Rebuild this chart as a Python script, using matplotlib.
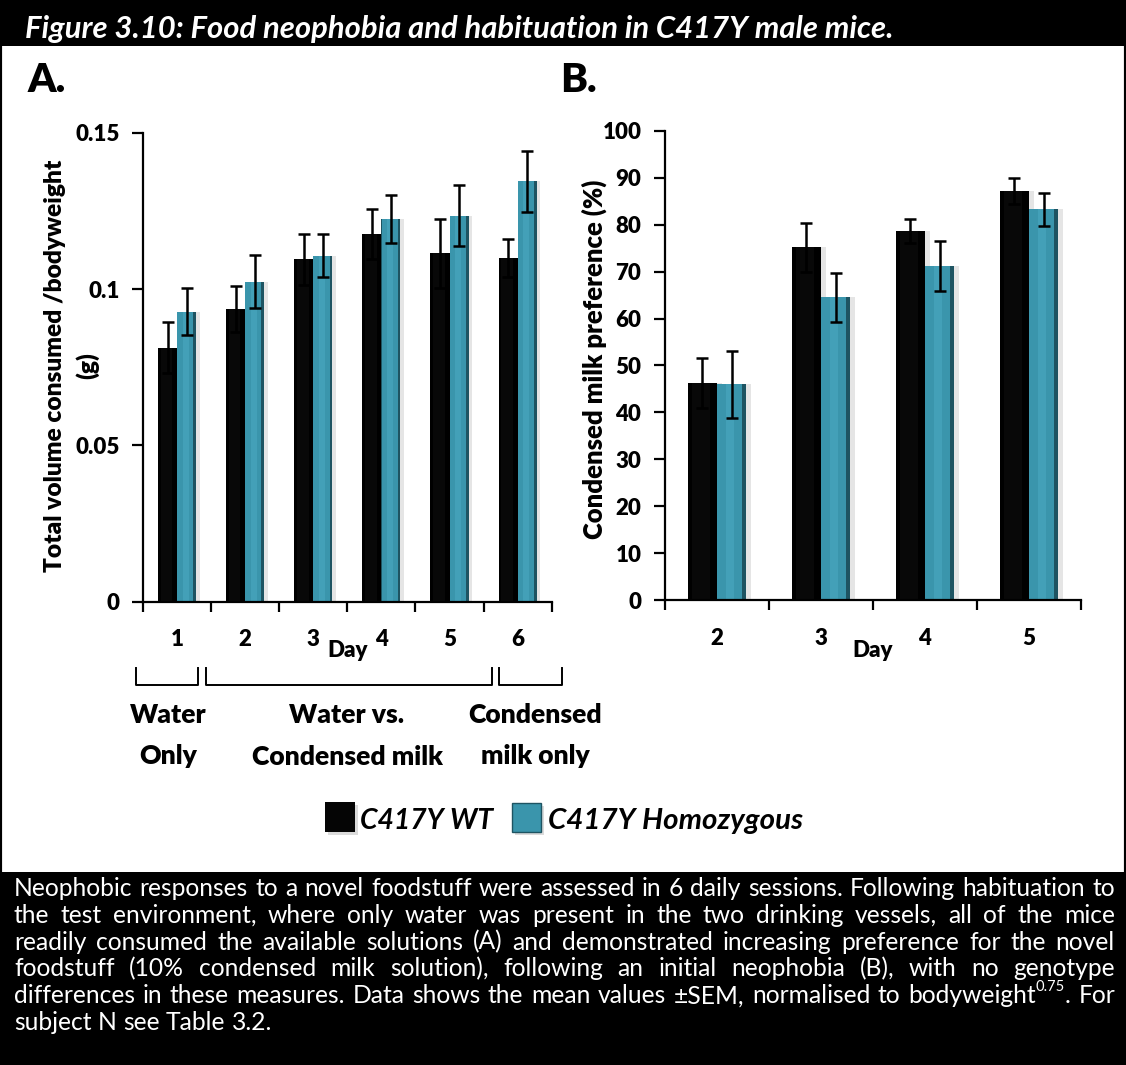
import matplotlib
matplotlib.use('Agg')
import matplotlib.pyplot as plt
import numpy as np
from matplotlib.patches import Rectangle
from matplotlib.lines import Line2D

plt.rcParams['font.family'] = ['Lato', 'DejaVu Sans']
plt.rcParams['font.weight'] = 'bold'

# ---------------- data ----------------
days_a = ['1', '2', '3', '4', '5', '6']
wt_a = [0.0812, 0.0936, 0.1095, 0.1176, 0.1114, 0.1099]
wt_a_err = [0.0082, 0.0075, 0.0081, 0.0079, 0.0110, 0.0060]
hom_a = [0.0928, 0.1023, 0.1107, 0.1224, 0.1235, 0.1344]
hom_a_err = [0.0076, 0.0085, 0.0070, 0.0078, 0.0098, 0.0098]
yticks_a = [0, 0.05, 0.1, 0.15]
yticklabels_a = ['0', '0.05', '0.1', '0.15']

days_b = ['2', '3', '4', '5']
wt_b = [46.2, 75.2, 78.6, 87.2]
wt_b_err = [5.3, 5.2, 2.5, 2.8]
hom_b = [46.0, 64.5, 71.2, 83.3]
hom_b_err = [7.1, 5.3, 5.4, 3.5]
yticks_b = list(range(0, 101, 10))

series_names = ['C417Y WT', 'C417Y Homozygous']
title = 'Figure 3.10: Food neophobia and habituation in C417Y male mice.'
ylabel_a = 'Total volume consumed /bodyweight'
ylabel_a2 = '(g)'
ylabel_b = 'Condensed milk preference (%)'
group_labels = [('Water', 'Only'), ('Water vs.', 'Condensed milk'), ('Condensed', 'milk only')]

caption_lines = [
    "Neophobic responses to a novel foodstuff were assessed in 6 daily sessions. Following habituation to",
    "the test environment, where only water was present in the two drinking vessels, all of the mice",
    "readily consumed the available solutions (A) and demonstrated increasing preference for the novel",
    "foodstuff (10% condensed milk solution), following an initial neophobia (B), with no genotype",
    "differences in these measures. Data shows the mean values \u00b1SEM, normalised to bodyweight^0.75. For",
    "subject N see Table 3.2.",
]

# ---------------- figure ----------------
W, H = 1126, 1065
fig = plt.figure(figsize=(W / 100, H / 100), dpi=100)
fig.patch.set_facecolor('white')


def fx(x):
    return x / W


def fy(y):
    return 1 - y / H


renderer = fig.canvas.get_renderer()


def fit(t, target, axis='w'):
    bb = t.get_window_extent(renderer)
    cur = bb.width if axis == 'w' else bb.height
    t.set_fontsize(t.get_fontsize() * target / cur)


# frame, title band, caption band
fig.add_artist(Rectangle((0, 0), 1, 1, transform=fig.transFigure, fill=False,
                         edgecolor='black', lw=3, zorder=0))
fig.add_artist(Rectangle((0, fy(46)), 1, 46 / H, transform=fig.transFigure,
                         facecolor='black', edgecolor='none', zorder=0))
fig.add_artist(Rectangle((0, 0), 1, fy(872), transform=fig.transFigure,
                         facecolor='black', edgecolor='none', zorder=0))

t = fig.text(fx(25), fy(38), title, color='white', fontsize=20, style='italic',
             fontweight='bold', ha='left', va='baseline')
fit(t, 868)

fig.text(fx(28), fy(92), 'A.', fontsize=29, fontweight='heavy', ha='left', va='baseline')
fig.text(fx(560), fy(92), 'B.', fontsize=29, fontweight='heavy', ha='left', va='baseline')

TEAL_DARK = '#1e5462'
TEAL = '#3a95ac'
TEAL_LIGHT = '#4aa9c1'
BW = 0.28
TICK_FS = 16


def draw_group(ax, x, vals, errs, kind):
    x = np.asarray(x, float)
    ax.bar(x + BW * 0.18, vals, BW, color='black', alpha=0.10, zorder=1, linewidth=0)
    if kind == 'wt':
        ax.bar(x, vals, BW, color='#000000', zorder=2, linewidth=0)
        ax.bar(x - BW * 0.05, vals, BW * 0.6, color='#080808', zorder=3, linewidth=0)
    else:
        ax.bar(x, vals, BW, color=TEAL_DARK, zorder=2, linewidth=0)
        ax.bar(x - BW * 0.07, vals, BW * 0.84, color=TEAL, zorder=3, linewidth=0)
        ax.bar(x - BW * 0.05, vals, BW * 0.3, color=TEAL_LIGHT, alpha=0.6, zorder=4, linewidth=0)
    ax.errorbar(x, vals, yerr=errs, fmt='none', ecolor='black', elinewidth=1.8,
                capsize=4.5, capthick=1.8, zorder=6)


def style_axis(ax, n, cats):
    for s in ['top', 'right']:
        ax.spines[s].set_visible(False)
    for s in ['left', 'bottom']:
        ax.spines[s].set_linewidth(1.6)
        ax.spines[s].set_zorder(7)
    ax.set_xlim(-0.5, n - 0.5)
    ax.set_xticks(range(n))
    ax.set_xticklabels(cats)
    ax.set_xticks(np.arange(-0.5, n, 1), minor=True)
    ax.tick_params(axis='x', which='major', length=0, pad=20, labelsize=TICK_FS)
    ax.tick_params(axis='x', which='minor', length=7, width=1.6, direction='out')
    ax.tick_params(axis='y', which='major', length=8, width=1.6, direction='out',
                   pad=9, labelsize=TICK_FS)
    ax.set_facecolor('none')


def bold_ticks(ax):
    for lbl in ax.get_xticklabels() + ax.get_yticklabels():
        lbl.set_fontweight('heavy')


# ---------------- panel A ----------------
axA = fig.add_axes([fx(143), fy(601.7), fx(551.7) - fx(143), fy(132.7) - fy(601.7)])
xa = np.arange(len(days_a))
draw_group(axA, xa - BW / 2, wt_a, wt_a_err, 'wt')
draw_group(axA, xa + BW / 2, hom_a, hom_a_err, 'hom')
style_axis(axA, len(days_a), days_a)
axA.set_ylim(0, 0.15)
axA.set_yticks(yticks_a)
axA.set_yticklabels(yticklabels_a)
bold_ticks(axA)

# ---------------- panel B ----------------
axB = fig.add_axes([fx(665), fy(600.3), fx(1081) - fx(665), fy(130.7) - fy(600.3)])
xb = np.arange(len(days_b))
draw_group(axB, xb - BW / 2, wt_b, wt_b_err, 'wt')
draw_group(axB, xb + BW / 2, hom_b, hom_b_err, 'hom')
style_axis(axB, len(days_b), days_b)
axB.set_ylim(0, 100)
axB.set_yticks(yticks_b)
bold_ticks(axB)

# axis labels
t = fig.text(fx(55), fy(366), ylabel_a, rotation=90, fontsize=14, fontweight='heavy',
             ha='center', va='center')
fit(t, 413, 'h')
fig.text(fx(87), fy(366), ylabel_a2, rotation=90, fontsize=t.get_fontsize(),
         fontweight='heavy', ha='center', va='center')
t = fig.text(fx(594), fy(359), ylabel_b, rotation=90, fontsize=14, fontweight='heavy',
             ha='center', va='center')
fit(t, 358, 'h')
fig.text(fx(348), fy(657), 'Day', fontsize=TICK_FS, fontweight='heavy', ha='center', va='baseline')
fig.text(fx(873), fy(657), 'Day', fontsize=TICK_FS, fontweight='heavy', ha='center', va='baseline')

# brackets under panel A
brackets = [(136, 198), (206, 492), (499, 562)]
for x0, x1 in brackets:
    fig.add_artist(Line2D([fx(x0), fx(x0), fx(x1), fx(x1)], [fy(668), fy(685), fy(685), fy(668)],
                          transform=fig.transFigure, color='black', lw=1.4))
centers = [168, 347, 535]
tt = fig.text(fx(347), fy(765), group_labels[1][1], fontsize=16, fontweight='heavy',
              ha='center', va='baseline')
fit(tt, 191)
gl_fs = tt.get_fontsize()
for (l1, l2), c in zip(group_labels, centers):
    fig.text(fx(c), fy(723), l1, fontsize=gl_fs, fontweight='heavy', ha='center', va='baseline')
    if l2 != group_labels[1][1]:
        fig.text(fx(c), fy(764), l2, fontsize=gl_fs, fontweight='heavy', ha='center', va='baseline')

# legend
fig.add_artist(Rectangle((fx(328), fy(835)), 30 / W, 30 / H, transform=fig.transFigure,
                         facecolor='#999999', alpha=0.35, edgecolor='none'))
fig.add_artist(Rectangle((fx(325), fy(832)), 30 / W, 30 / H, transform=fig.transFigure,
                         facecolor='#050505', edgecolor='none'))
fig.add_artist(Rectangle((fx(515), fy(835)), 29 / W, 29 / H, transform=fig.transFigure,
                         facecolor='#999999', alpha=0.35, edgecolor='none'))
fig.add_artist(Rectangle((fx(512), fy(832)), 29 / W, 29 / H, transform=fig.transFigure,
                         facecolor=TEAL, edgecolor=TEAL_DARK, lw=1))
t1 = fig.text(fx(360), fy(829), series_names[0], fontsize=17, style='italic',
              fontweight='bold', ha='left', va='baseline')
fit(t1, 133)
t2 = fig.text(fx(548), fy(829), series_names[1], fontsize=17, style='italic',
              fontweight='bold', ha='left', va='baseline')
fit(t2, 255)

# ---------------- caption (justified) ----------------
LEFT, RIGHT = 14, 1115
cap_fs = 14.5


def tokens(line):
    out = []
    for w in line.split(' '):
        if '^' in w:
            base, rest = w.split('^')
            sup = rest.rstrip('.')
            tail = rest[len(sup):]
            out.append([(base, 1.0, 0.0), (sup, 0.6, 0.5), (tail, 1.0, 0.0)])
        else:
            out.append([(w, 1.0, 0.0)])
    return out


def word_width(segs, fs):
    tot = 0
    for s, sc, _ in segs:
        if not s:
            continue
        tt = fig.text(0, 0, s, fontsize=fs * sc, fontweight='normal')
        tot += tt.get_window_extent(renderer).width
        tt.remove()
    return tot


def space_width(fs):
    a = fig.text(0, 0, 'x x', fontsize=fs, fontweight='normal')
    b = fig.text(0, 0, 'xx', fontsize=fs, fontweight='normal')
    w = a.get_window_extent(renderer).width - b.get_window_extent(renderer).width
    a.remove(); b.remove()
    return w


tok_lines = [tokens(l) for l in caption_lines]
nat = []
for tl in tok_lines:
    ws = [word_width(w, cap_fs) for w in tl]
    nat.append(sum(ws) + space_width(cap_fs) * (len(ws) - 1))
cap_fs = cap_fs * 1092 / max(nat[:-1])
sp = space_width(cap_fs)

baseline0, lstep = 896, 26.8
for i, tl in enumerate(tok_lines):
    ws = [word_width(w, cap_fs) for w in tl]
    if i < len(tok_lines) - 1:
        gap = (RIGHT - LEFT - sum(ws)) / (len(ws) - 1)
    else:
        gap = sp
    x = LEFT
    yb = baseline0 + i * lstep
    for segs, wwid in zip(tl, ws):
        xx = x
        for s, sc, rise in segs:
            if not s:
                continue
            tt = fig.text(fx(xx), fy(yb - rise * cap_fs * 1.389), s, fontsize=cap_fs * sc,
                          fontweight='normal', color='white', ha='left', va='baseline')
            xx += tt.get_window_extent(renderer).width
        x += wwid + gap

fig.savefig('out.png', dpi=100, facecolor='white')
